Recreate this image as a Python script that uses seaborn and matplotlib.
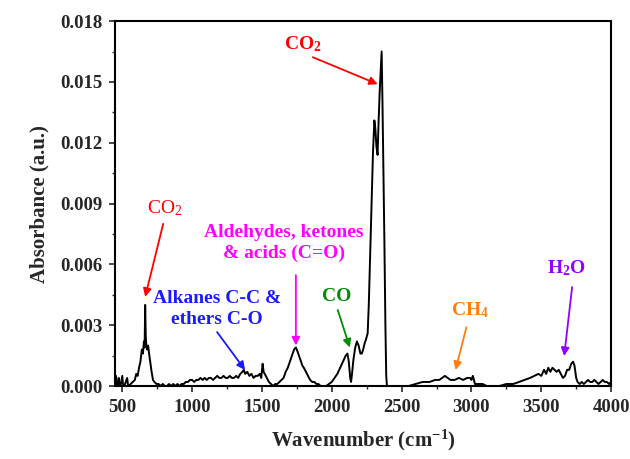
import matplotlib
matplotlib.use("Agg")
import matplotlib.pyplot as plt
from matplotlib.ticker import MultipleLocator
import numpy as np
import pandas as pd
import seaborn as sns

# FTIR absorbance spectrum of the evolved gas
wavenumber = [
    450, 455, 460, 468, 475, 480, 490, 500, 505, 515, 525, 535, 540, 550, 560,
    575, 590, 600, 610, 620, 630, 640, 648, 655, 660, 664, 668, 672, 678, 685,
    692, 700, 710, 720, 730, 745, 760, 775, 790, 805, 820, 835, 850, 865, 880,
    895, 910, 925, 940, 955, 970, 985, 1000, 1015, 1030, 1045, 1060, 1075, 1090,
    1105, 1120, 1135, 1150, 1165, 1180, 1195, 1210, 1225, 1240, 1255, 1270, 1285,
    1300, 1315, 1330, 1345, 1360, 1370, 1380, 1395, 1410, 1425, 1440, 1455, 1470,
    1485, 1495, 1505, 1512, 1520, 1535, 1550, 1565, 1580, 1595, 1610, 1625, 1640,
    1655, 1670, 1685, 1700, 1715, 1730, 1743, 1755, 1765, 1775, 1790, 1800, 1815,
    1830, 1845, 1860, 1875, 1890, 1905, 1920, 1940, 1960, 1980, 2000, 2020, 2040,
    2060, 2080, 2100, 2112, 2122, 2132, 2138, 2145, 2155, 2168, 2180, 2192, 2205,
    2215, 2225, 2235, 2245, 2257, 2265, 2275, 2286, 2295, 2305, 2312, 2320, 2328,
    2335, 2343, 2350, 2357, 2363, 2370, 2377, 2384, 2390, 2395, 2420, 2450, 2500,
    2550, 2600, 2650, 2700, 2740, 2770, 2790, 2810, 2830, 2850, 2880, 2910, 2940,
    2970, 2990, 3000, 3010, 3018, 3025, 3050, 3080, 3110, 3150, 3200, 3250, 3300,
    3340, 3380, 3420, 3450, 3480, 3500, 3520, 3535, 3550, 3565, 3580, 3595, 3610,
    3625, 3640, 3655, 3670, 3685, 3700, 3715, 3728, 3738, 3750, 3760, 3775, 3790,
    3805, 3820, 3835, 3850, 3865, 3880, 3895, 3910, 3925, 3940, 3955, 3970, 3985,
    4000,
]
absorbance = [
    0.0001, 0.0005, 0.0001, 0.0000, 0.0004, 0.0000, 0.0001, 0.0005, 0.0001, 0.0000,
    0.0002, 0.0004, 0.0001, 0.0000, 0.0001, 0.0002, 0.0003, 0.0006, 0.0005, 0.0009,
    0.0012, 0.0018, 0.0016, 0.0022, 0.0019, 0.0040, 0.0025, 0.0020, 0.0018, 0.0020,
    0.0016, 0.0012, 0.0007, 0.0003, 0.0002, 0.0001, 0.0001, 0.0000, 0.0001, 0.0000,
    0.0000, 0.0001, 0.0000, 0.0001, 0.0000, 0.0001, 0.0000, 0.0001, 0.0001, 0.0002,
    0.0002, 0.0003, 0.0003, 0.0002, 0.0003, 0.0003, 0.0004, 0.0003, 0.0004, 0.0003,
    0.0004, 0.0004, 0.0003, 0.0004, 0.0005, 0.0004, 0.0004, 0.0005, 0.0004, 0.0004,
    0.0005, 0.0004, 0.0004, 0.0005, 0.0004, 0.0006, 0.0007, 0.0008, 0.0006, 0.0007,
    0.0005, 0.0006, 0.0004, 0.0005, 0.0005, 0.0006, 0.0004, 0.0011, 0.0007, 0.0006,
    0.0004, 0.0002, 0.0001, 0.0000, 0.0001, 0.0001, 0.0002, 0.0003, 0.0004, 0.0007,
    0.0009, 0.0012, 0.0015, 0.0018, 0.0019, 0.0017, 0.0015, 0.0013, 0.0010, 0.0009,
    0.0007, 0.0005, 0.0003, 0.0002, 0.0002, 0.0001, 0.0001, 0.0000, 0.0000, 0.0000,
    0.0001, 0.0002, 0.0004, 0.0006, 0.0009, 0.0012, 0.0015, 0.0016, 0.0012, 0.0004,
    0.0002, 0.0006, 0.0013, 0.0019, 0.0022, 0.0020, 0.0016, 0.0016, 0.0018, 0.0021,
    0.0023, 0.0026, 0.0040, 0.0065, 0.0092, 0.0115, 0.0131, 0.0127, 0.0118, 0.0114,
    0.0130, 0.0145, 0.0155, 0.0165, 0.0140, 0.0106, 0.0070, 0.0030, 0.0005, 0.0000,
    0.0000, 0.0000, 0.0000, 0.0000, 0.0001, 0.0002, 0.0002, 0.0003, 0.0003, 0.0004,
    0.0005, 0.0004, 0.0003, 0.0003, 0.0004, 0.0003, 0.0004, 0.0004, 0.0003, 0.0005,
    0.0003, 0.0001, 0.0001, 0.0001, 0.0000, 0.0000, 0.0000, 0.0001, 0.0001, 0.0002,
    0.0003, 0.0004, 0.0005, 0.0006, 0.0005, 0.0008, 0.0006, 0.0009, 0.0007, 0.0009,
    0.0008, 0.0007, 0.0008, 0.0006, 0.0004, 0.0005, 0.0008, 0.0008, 0.0011, 0.0012,
    0.0010, 0.0004, 0.0002, 0.0001, 0.0002, 0.0001, 0.0002, 0.0003, 0.0002, 0.0002,
    0.0003, 0.0002, 0.0001, 0.0002, 0.0003, 0.0002, 0.0002, 0.0001, 0.0002,
]

x_ticks = [500, 1000, 1500, 2000, 2500, 3000, 3500, 4000]
y_ticks = [0.000, 0.003, 0.006, 0.009, 0.012, 0.015, 0.018]

# band assignments: label, colour, bold, text position, arrow tail, arrow tip
bands = [
    ("CO$_\\mathbf{2}$", "#ff0000", True, (1793, 0.01686), (1864, 0.01622), (2329, 0.01489)),
    ("CO$_2$", "#ff0000", False, (807, 0.00878), (793, 0.00800), (664, 0.00440)),
    ("Alkanes C-C &\nethers C-O", "#1a1aff", True, (1180, 0.00380), (1179, 0.00266), (1379, 0.00079)),
    ("Aldehydes, ketones\n& acids (C=O)", "#ff00ff", True, (1657, 0.00705), (1743, 0.00547), (1743, 0.00200)),
    ("CO", "#008c00", True, (2036, 0.00444), (2043, 0.00375), (2129, 0.00190)),
    ("CH$_\\mathbf{4}$", "#ff7f0e", True, (2986, 0.00375), (2964, 0.00290), (2886, 0.00079)),
    ("H$_\\mathbf{2}$O", "#9400ff", True, (3679, 0.00582), (3721, 0.00488), (3664, 0.00148)),
]

sns.set_style("white")
plt.rcParams["font.family"] = ["Liberation Serif", "DejaVu Serif"]
plt.rcParams["mathtext.fontset"] = "custom"
plt.rcParams["mathtext.rm"] = "Liberation Serif"
plt.rcParams["mathtext.it"] = "Liberation Serif:italic"
plt.rcParams["mathtext.bf"] = "Liberation Serif:bold"

df = pd.DataFrame({"wavenumber": wavenumber, "absorbance": absorbance})

fig = plt.figure(figsize=(6.3, 4.59), dpi=100)
ax = fig.add_axes([0.183, 0.159, 0.787, 0.795])
sns.lineplot(data=df, x="wavenumber", y="absorbance", color="black",
             linewidth=1.4, sort=False, ax=ax)

ax.set_xlim(450, 4000)
ax.set_ylim(0, 0.018)
ax.set_xticks(x_ticks)
ax.set_yticks(y_ticks)
ax.set_yticklabels([f"{v:.3f}" for v in y_ticks])
ax.xaxis.set_minor_locator(MultipleLocator(250))
ax.yaxis.set_minor_locator(MultipleLocator(0.0015))
ax.tick_params(which="major", direction="out", length=4, width=1.2, pad=5,
               bottom=True, left=True, top=False, right=False, labelsize=13.5)
ax.tick_params(which="minor", direction="out", length=2.5, width=1.0,
               bottom=True, left=True, top=False, right=False)
for lab in ax.get_xticklabels() + ax.get_yticklabels():
    lab.set_fontweight("bold")
for sp in ax.spines.values():
    sp.set_visible(True)
    sp.set_color("black")
    sp.set_linewidth(1.5)

ax.set_xlabel("Wavenumber (cm$^{\\mathbf{-1}}$)", fontsize=15, fontweight="bold", labelpad=9)
ax.set_ylabel("Absorbance (a.u.)", fontsize=15, fontweight="bold", labelpad=8)

for label, color, bold, txt, tail, tip in bands:
    ax.text(txt[0], txt[1], label, color=color, fontsize=14,
            fontweight="bold" if bold else "normal",
            ha="center", va="center", linespacing=1.25)
    ax.annotate("", xy=tip, xytext=tail,
                arrowprops=dict(arrowstyle="-|>", color=color, lw=1.3,
                                mutation_scale=12, shrinkA=0, shrinkB=0))

fig.savefig("out.png", dpi=100, facecolor="white")
